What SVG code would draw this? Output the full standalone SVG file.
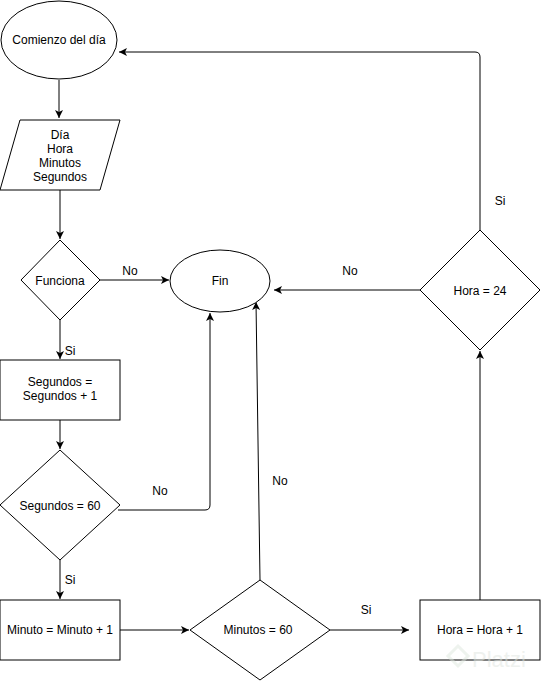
<svg xmlns="http://www.w3.org/2000/svg" width="541" height="681" viewBox="0 0 541 681">
<defs>
<marker id="arr" markerWidth="10" markerHeight="10" refX="8" refY="4" orient="auto" markerUnits="userSpaceOnUse">
<path d="M0,0 L8,4 L0,8 L2,4 Z" fill="#000"/>
</marker>
<style>
.s{fill:#fff;stroke:#000;stroke-width:1}
.t{font-family:"Liberation Sans",Arial,sans-serif;font-size:12px;fill:#000;text-anchor:middle}
.c{fill:none;stroke:#000;stroke-width:1}
.a{marker-end:url(#arr)}
</style>
</defs>
<rect width="541" height="681" fill="#fff"/>
<g id="connectors">
<line class="c a" x1="59" y1="80" x2="59" y2="118"/>
<line class="c a" x1="60" y1="190" x2="60" y2="239"/>
<line class="c a" x1="100" y1="280" x2="169" y2="280"/>
<line class="c a" x1="60" y1="320" x2="60" y2="359"/>
<line class="c a" x1="60" y1="420" x2="60" y2="449"/>
<path class="c a" d="M118,510 L205,510 Q210,510 210,505 L210,313"/>
<line class="c a" x1="60" y1="560" x2="60" y2="599"/>
<line class="c a" x1="120" y1="630" x2="189" y2="630"/>
<line class="c a" x1="260" y1="580" x2="256" y2="302"/>
<line class="c a" x1="330" y1="630" x2="409" y2="630"/>
<line class="c a" x1="480" y1="600" x2="480" y2="351"/>
<line class="c a" x1="420" y1="290" x2="274" y2="290"/>
<path class="c a" d="M480,230 L480,57 Q480,52 475,52 L119,52"/>
<text class="t" x="130" y="275">No</text>
<text class="t" x="70" y="355">Si</text>
<text class="t" x="160" y="495">No</text>
<text class="t" x="70" y="584">Si</text>
<text class="t" x="280" y="485">No</text>
<text class="t" x="366" y="614">Si</text>
<text class="t" x="350" y="275">No</text>
<text class="t" x="500" y="205">Si</text>
</g>
<g id="n-comienzo">
<ellipse class="s" cx="59" cy="40" rx="58" ry="39"/>
<text class="t" x="59" y="44">Comienzo del día</text>
</g>
<g id="n-datos">
<polygon class="s" points="20,120 120,120 100,190 0,190"/>
<text class="t" x="60" y="139">Día</text>
<text class="t" x="60" y="153">Hora</text>
<text class="t" x="60" y="167">Minutos</text>
<text class="t" x="60" y="181">Segundos</text>
</g>
<g id="n-funciona">
<polygon class="s" points="60,240 100,280 60,320 21,280"/>
<text class="t" x="60" y="285">Funciona</text>
</g>
<g id="n-fin">
<ellipse class="s" cx="220" cy="281" rx="50" ry="31"/>
<text class="t" x="220" y="285">Fin</text>
</g>
<g id="n-segundos">
<rect class="s" x="0" y="360" width="120" height="60"/>
<text class="t" x="60" y="386">Segundos =</text>
<text class="t" x="60" y="400">Segundos + 1</text>
</g>
<g id="n-seg60">
<polygon class="s" points="60,450 120,505 60,560 0,505"/>
<text class="t" x="60" y="510">Segundos = 60</text>
</g>
<g id="n-minuto">
<rect class="s" x="0" y="600" width="120" height="60"/>
<text class="t" x="60" y="634">Minuto = Minuto + 1</text>
</g>
<g id="n-min60">
<polygon class="s" points="260,580 330,630 260,680 190,630"/>
<text class="t" x="258" y="634">Minutos = 60</text>
</g>
<g id="n-hora">
<rect class="s" x="420" y="600" width="120" height="60"/>
<text class="t" x="480" y="634">Hora = Hora + 1</text>
</g>
<g id="n-hora24">
<polygon class="s" points="480,230 540,290 480,350 420,290"/>
<text class="t" x="480" y="295">Hora = 24</text>
</g>
<g id="watermark" opacity="0.5">
<path d="M458,646 L468,656 L458,666 L448,656 Z" fill="none" stroke="#dfe8df" stroke-width="3"/>
<text x="472" y="667" font-family="'Liberation Sans',Arial,sans-serif" font-size="22" fill="#dfe5df">Platzi</text>
</g>
</svg>
